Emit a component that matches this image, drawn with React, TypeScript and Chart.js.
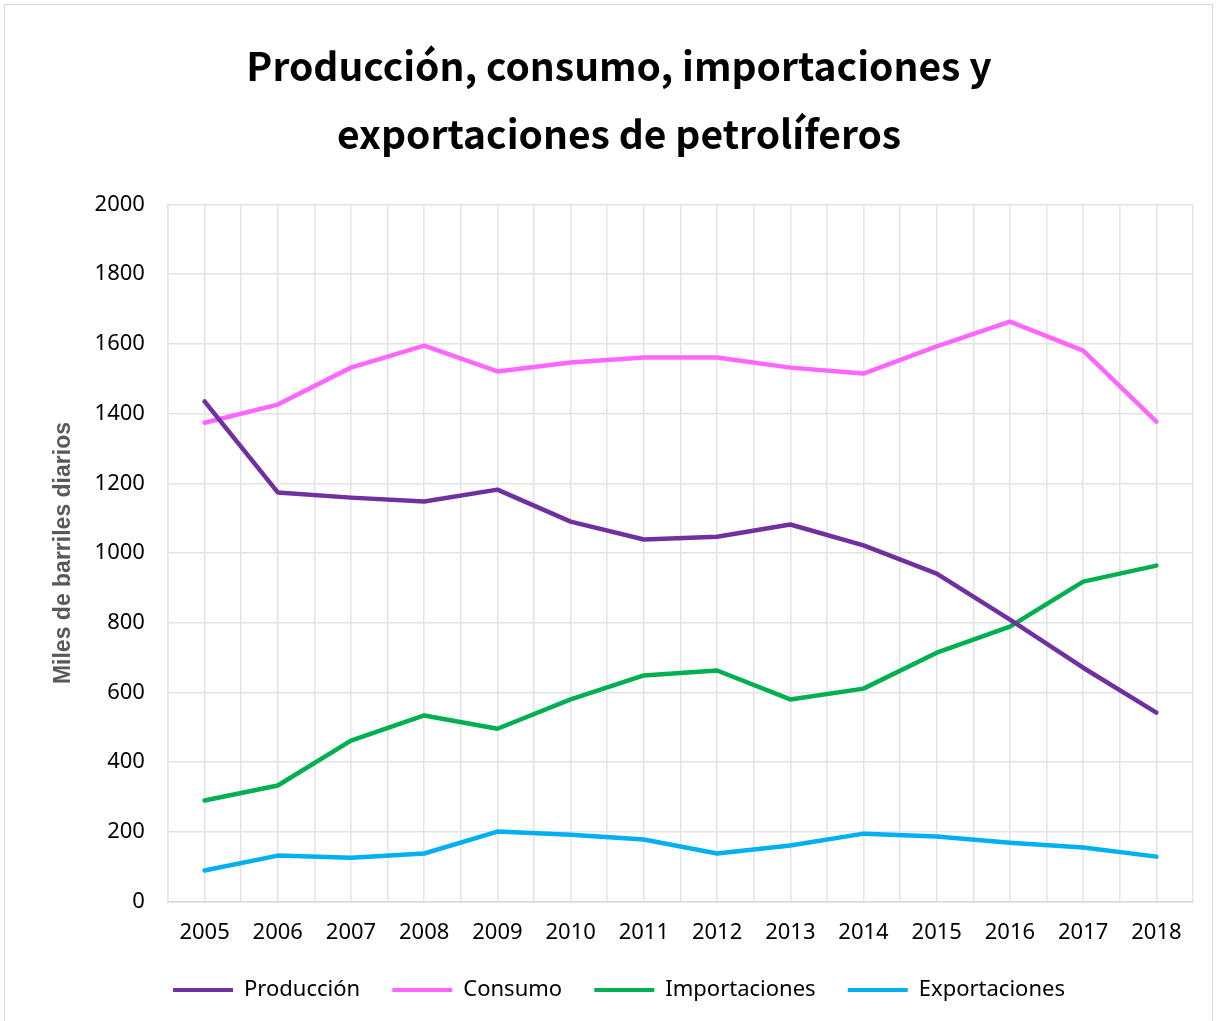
import React, { useEffect, useRef } from "react";
import { Chart, registerables } from "chart.js";

Chart.register(...registerables);

const years = [2005, 2006, 2007, 2008, 2009, 2010, 2011, 2012, 2013, 2014, 2015, 2016, 2017, 2018];
const produccion = [1435, 1174, 1159, 1148, 1182, 1090, 1039, 1047, 1082, 1022, 941, 809, 671, 542];
const consumo = [1374, 1426, 1532, 1595, 1521, 1547, 1561, 1561, 1532, 1515, 1593, 1664, 1581, 1377];
const importaciones = [290, 333, 462, 534, 496, 580, 649, 663, 580, 611, 714, 789, 918, 964];
const exportaciones = [89, 132, 126, 138, 201, 192, 178, 138, 161, 195, 187, 169, 155, 129];

const seriesNames = ["Producción", "Consumo", "Importaciones", "Exportaciones"];
const seriesColors = ["#7030A0", "#FF66FF", "#00B050", "#00B0F0"];
const titleLines = ["Producción, consumo, importaciones y", "exportaciones de petrolíferos"];
const yTitle = "Miles de barriles diarios";

const TITLE_FONT = "'Noto Sans CJK JP', 'Noto Sans', sans-serif";
const FONT = "'Noto Sans', sans-serif";

const borderPlugin = {
  id: "outerBorder",
  beforeDraw(chart: any) {
    const ctx = chart.ctx;
    ctx.save();
    ctx.fillStyle = "#ffffff";
    ctx.fillRect(0, 0, chart.width, chart.height);
    ctx.strokeStyle = "#d9d9d9";
    ctx.lineWidth = 1;
    ctx.strokeRect(4.5, 4.5, 1208, 1030);
    ctx.restore();
  },
};

export default function App() {
  const ref = useRef<HTMLCanvasElement | null>(null);
  useEffect(() => {
    if (!ref.current) return;
    const all = [produccion, consumo, importaciones, exportaciones];
    const chart = new Chart(ref.current, {
      type: "line",
      data: {
        datasets: all.map((vals, k) => ({
          label: seriesNames[k],
          data: years.map((y, i) => ({ x: y, y: vals[i] })),
          borderColor: seriesColors[k],
          backgroundColor: seriesColors[k],
          borderWidth: 4.5,
          pointRadius: 0,
          tension: 0,
          borderJoinStyle: "round" as const,
          borderCapStyle: "round" as const,
        })),
      },
      plugins: [borderPlugin],
      options: {
        animation: false,
        responsive: false,
        layout: { padding: { left: 45, right: 27, top: 32, bottom: 10 } },
        plugins: {
          title: {
            display: true,
            text: titleLines,
            color: "#000000",
            font: { family: TITLE_FONT, size: 39, weight: "bold", lineHeight: 1.75 },
            padding: { top: 0, bottom: 36 },
          },
          legend: {
            position: "bottom",
            labels: {
              color: "#000000",
              font: { family: FONT, size: 22 },
              boxWidth: 60,
              boxHeight: 4,
              padding: 15,
              generateLabels: (c: any) => {
                const items = Chart.defaults.plugins.legend.labels.generateLabels(c);
                return items.map((it: any, i: number) => ({
                  ...it,
                  lineWidth: 0,
                  text: i < items.length - 1 ? it.text + "   " : it.text,
                }));
              },
            },
          },
          tooltip: { enabled: false },
        },
        scales: {
          x: {
            type: "linear",
            min: 2004.5,
            max: 2018.5,
            grid: { color: "#e3e3e3", lineWidth: 1.5, drawTicks: false },
            border: { color: "#d9d9d9", width: 1.5 },
            ticks: {
              stepSize: 0.5,
              autoSkip: false,
              maxRotation: 0,
              padding: 18,
              color: "#000000",
              font: { family: FONT, size: 22 },
              callback: (v: any) => (Number.isInteger(Number(v)) ? String(v) : ""),
            },
          },
          y: {
            min: 0,
            max: 2000,
            grid: { color: "#e3e3e3", lineWidth: 1.5, drawTicks: false },
            border: { color: "#e3e3e3", width: 1.5 },
            ticks: {
              stepSize: 200,
              padding: 23,
              color: "#000000",
              font: { family: FONT, size: 22 },
              callback: (v: any) => String(v),
            },
            title: {
              display: true,
              text: yTitle,
              color: "#595959",
              font: { family: "'Liberation Sans', Arial, sans-serif", size: 23, weight: "bold" },
              padding: { top: 5, bottom: -6 },
            },
          },
        },
      },
    });
    return () => chart.destroy();
  }, []);
  return (
    <div style={{ position: "absolute", left: 0, top: 0, width: 1220, height: 1021 }}>
      <canvas ref={ref} width={1220} height={1021} style={{ width: 1220, height: 1021, display: "block" }} />
    </div>
  );
}
